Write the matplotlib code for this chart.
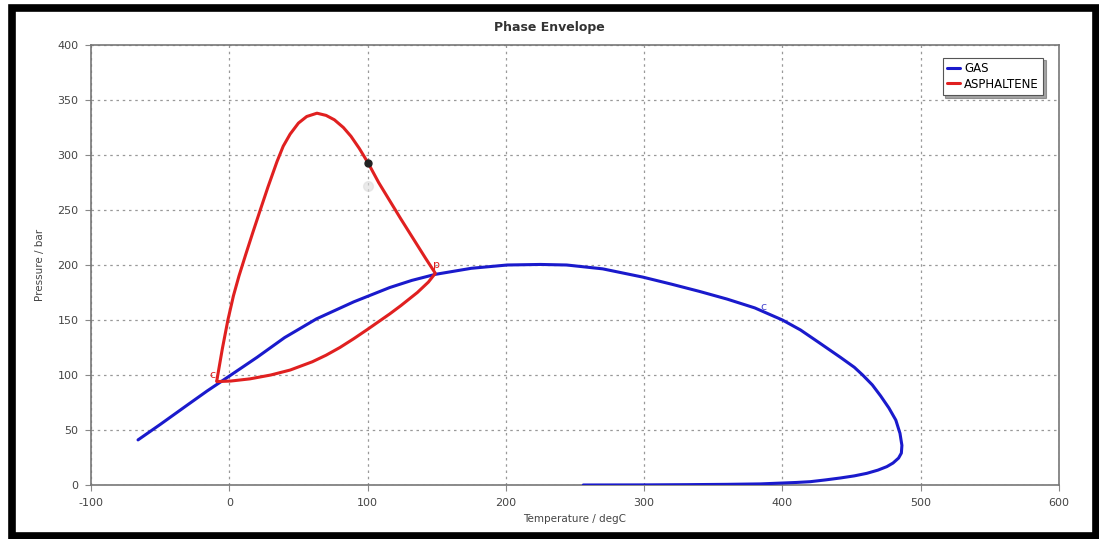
import numpy as np
import matplotlib
matplotlib.use("Agg")
import matplotlib.pyplot as plt
from matplotlib.patches import Rectangle

# Gas phase envelope (temperature degC, pressure bar)
gas_t = [-66, -50, -30, -16, 0, 20, 40, 63, 90, 116, 132, 149, 175, 201, 225, 244,
         270, 299, 320, 340, 360, 380, 400, 413, 427, 442, 452, 458, 465, 471, 477, 482,
         485, 486.4, 486, 484, 480, 475.5, 469, 461, 452, 442, 431, 420, 410,
         400, 384, 360, 330, 300, 256]
gas_p = [41, 55, 73, 85.5, 99, 116, 134, 151, 166.5, 179.5, 186, 191.5, 197, 200, 200.5, 200,
         196.5, 189, 182.5, 176, 169, 161, 150, 141, 129, 116, 107, 100, 91, 81, 70, 59,
         47, 36, 29, 24.5, 20, 16.7, 13.5, 10.6, 8.3, 6.4, 4.6, 3, 2.3,
         1.8, 1, 0.6, 0.3, 0.1, 0]

# Asphaltene envelope
asph_t = [-9, -5, -1, 3, 7, 12, 17, 22.4, 28, 34.5, 39, 44, 50, 56, 63.4,
          70, 76, 82.5, 88, 94, 100.5, 108, 116, 124, 134, 142, 149,
          144, 136, 124, 116, 108, 100, 90, 80, 70, 60, 44, 30, 15, 1, -9]
asph_p = [95, 124, 150, 172, 190, 210, 229.5, 250, 271, 294, 308, 319, 329, 335, 338,
          336, 332, 325, 317, 306, 292.5, 275, 258.5, 242, 222, 206, 192.5,
          184.5, 175, 163, 155.5, 148.5, 141.5, 133, 125, 118, 112, 104.5, 100, 96.5, 94.5, 94]

x_ticks = [-100, 0, 100, 200, 300, 400, 500, 600]
y_ticks = [0, 50, 100, 150, 200, 250, 300, 350, 400]

plt.rcParams['font.family'] = ['DejaVu Sans']
plt.rcParams['axes.unicode_minus'] = False

fig = plt.figure(figsize=(10.99, 5.39), dpi=100)
ax = fig.add_axes([91 / 1099, 1 - 485 / 539, (1059 - 91) / 1099, (485 - 45) / 539])

ax.plot(gas_t, gas_p, color='#1a1acc', lw=2.2, label='GAS', zorder=3,
        solid_joinstyle='round', solid_capstyle='round')
ax.plot(asph_t, asph_p, color='#e02020', lw=2.2, label='ASPHALTENE', zorder=4,
        solid_joinstyle='round', solid_capstyle='round')

# point markers / labels
ax.plot([100.5], [292.5], 'o', color='#222222', ms=5, zorder=5)
ax.plot([100.5], [272], 'o', color='#dddddd', ms=7, alpha=0.6, zorder=2)
ax.text(150, 195, 'p', color='#e02020', fontsize=8, ha='center', va='bottom', zorder=5)
ax.text(-12, 95, 'c', color='#e02020', fontsize=8, ha='center', va='bottom', zorder=5)
ax.text(386, 157, 'c', color='#4a4ad0', fontsize=8, ha='center', va='bottom', zorder=5)

ax.set_xlim(-100, 600)
ax.set_ylim(0, 400)
ax.set_xticks(x_ticks)
ax.set_yticks(y_ticks)
ax.tick_params(labelsize=8, labelcolor='#444444', color='#888888', length=4, pad=5)
ax.grid(True, color='#999999', linestyle=(0, (2, 3)), lw=0.9)
for s in ax.spines.values():
    s.set_color('#777777')
    s.set_linewidth(1.2)

fig.text(0.5, 1 - 27 / 539, 'Phase Envelope', fontsize=9, fontweight='bold',
         color='#333333', ha='center', va='center')
ax.set_xlabel('Temperature / degC', fontsize=7.5, color='#444444', labelpad=5)
ax.set_ylabel('Pressure / bar', fontsize=7.5, color='#444444', labelpad=9)

leg = ax.legend(loc='upper right', fontsize=8.5, frameon=True, fancybox=False,
                shadow=True, handlelength=1.1, handletextpad=0.3,
                borderpad=0.4, labelspacing=0.2, bbox_to_anchor=(0.99, 0.985))
leg.get_frame().set_edgecolor('#555555')
leg.get_frame().set_linewidth(0.8)

# thick black outer frame
fig.patches.append(Rectangle((11.5 / 1099, 3.5 / 539), 1084 / 1099, 528 / 539,
                             transform=fig.transFigure, fill=False,
                             edgecolor='black', lw=5.5))

fig.savefig('out.png', dpi=100)
